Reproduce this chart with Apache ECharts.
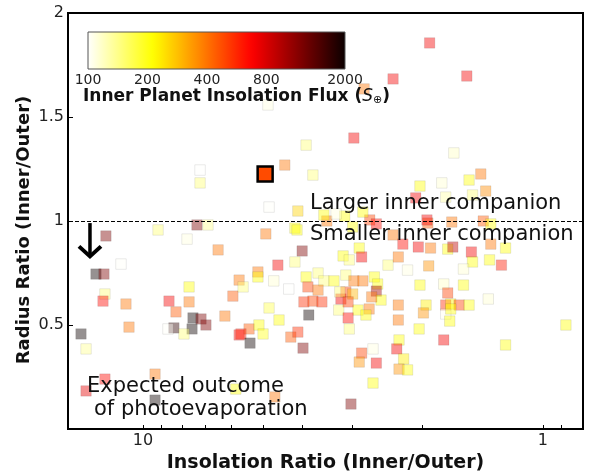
<!DOCTYPE html>
<html><head><meta charset="utf-8">
<script src="https://cdn.jsdelivr.net/npm/echarts@6/dist/echarts.min.js"></script>
<style>html,body{margin:0;padding:0;background:#fff}#c{width:596px;height:473px}</style>
</head><body><div id="c"></div>
<script>
// ---- data ----
const insolationRatio = [
  1.92,1.55,2.37,2.80,4.87,2.97,3.91,4.42,3.76,4.84,
  4.10,1.67,2.03,1.79,1.53,1.43,1.39,1.50,1.75,2.08,
  7.20,7.20,7.33,6.88,9.17,12.38,7.76,6.49,11.35,13.11,
  12.52,12.45,12.59,11.03,10.84,14.29,13.88,8.61,8.27,7.67,
  7.67,7.50,7.16,6.96,8.37,8.66,7.54,7.90,6.24,5.96,
  5.75,5.75,9.33,12.45,13.88,9.33,5.86,4.93,4.17,4.00,
  4.60,4.17,5.16,5.16,5.62,4.71,4.32,3.91,3.65,3.53,
  3.33,3.87,3.65,3.11,2.97,2.82,2.64,2.59,3.96,3.76,
  3.57,3.20,3.11,2.99,2.61,2.54,2.90,2.72,2.77,3.24,
  4.84,3.85,3.07,3.05,4.57,5.43,5.69,5.13,5.01,4.27,
  4.10,5.40,3.98,2.66,2.84,2.88,2.61,2.30,2.30,2.29,
  2.32,2.23,2.29,2.18,2.66,4.68,3.02,2.88,2.84,3.16,
  3.05,2.44,2.30,2.37,2.24,2.18,2.05,1.91,1.73,1.68,
  1.51,1.50,1.36,1.27,1.24,1.35,1.93,1.58,2.03,1.77,
  1.58,1.73,1.37,1.96,1.99,1.75,1.70,1.62,1.53,1.75,
  1.70,1.71,2.04,1.77,1.24,0.876,3.47,3.13,2.71,2.61,
  2.99,1.94,1.69,1.41,1.35,4.12,1.95,3.53,2.82,3.29,
  3.22,3.07,2.68
];
const radiusRatio = [
  1.856,1.697,1.683,1.635,1.558,1.399,1.365,1.269,1.221,1.067,
  1.048,1.327,1.168,1.183,1.197,1.226,1.144,1.125,1.115,1.111,
  1.183,1.245,0.981,0.981,0.957,0.928,0.913,0.861,0.793,0.745,
  0.745,0.649,0.615,0.601,0.490,0.457,0.385,0.615,0.563,0.683,
  0.611,0.534,0.529,0.500,0.486,0.481,0.481,0.457,0.543,0.639,
  0.716,0.452,0.264,0.240,0.183,0.139,0.192,0.938,0.966,0.856,
  0.788,0.803,0.755,0.731,0.683,0.712,0.673,0.731,0.750,0.712,
  0.712,0.683,0.668,0.740,0.712,0.712,0.731,0.697,0.611,0.615,
  0.611,0.625,0.659,0.649,0.663,0.620,0.572,0.577,0.548,0.572,
  0.582,0.548,0.534,0.481,0.524,0.481,0.457,0.500,0.457,0.442,
  0.466,0.413,0.389,0.385,0.365,0.322,0.317,0.596,0.524,0.428,
  0.385,0.337,0.288,0.284,0.221,0.154,0.120,0.870,0.827,0.832,
  0.813,0.788,0.827,0.933,0.889,0.764,0.875,0.870,0.865,0.875,
  0.851,0.803,0.813,0.788,0.870,0.889,0.784,0.769,0.692,0.697,
  0.692,0.654,0.625,0.596,0.558,0.596,0.601,0.596,0.596,0.553,
  0.577,0.519,0.481,0.428,0.404,0.500,1.000,1.024,1.005,0.986,
  0.971,0.990,0.995,1.000,0.986,0.957,1.005,1.029,1.043,1.034,
  0.659,0.611,0.635
];
const innerFlux = [
  700,700,700,400,110,700,150,400,150,102,
  260,120,210,115,210,400,360,150,130,700,
  150,101,1200,140,150,1200,110,400,102,2000,
  1200,150,650,400,400,2000,140,700,450,210,
  400,2000,1200,1200,1700,102,2000,150,400,450,
  400,650,400,650,750,2000,210,400,210,1200,
  700,150,400,210,150,115,101,210,150,150,
  210,500,400,150,400,400,210,210,550,500,
  550,700,500,300,1000,210,210,400,210,150,
  170,2000,650,150,210,450,600,210,200,450,
  550,2000,1200,110,500,350,700,400,400,210,
  700,230,350,210,210,400,1200,210,700,210,
  150,150,400,400,650,110,700,400,210,900,
  700,210,210,600,210,400,350,115,210,120,
  210,500,115,230,350,550,230,500,210,105,
  210,210,210,700,210,210,400,210,500,650,
  210,450,400,450,210,210,700,210,210,110,
  150,500,400
];
const highlightInsolation = [4.95];
const highlightRadius = [1.226];
const highlightFlux = [480];

const xLabelTicks = [1, 10];
const xAllTicks = [0.9, 1, 2, 3, 4, 5, 6, 7, 8, 9, 10];
const colorbarTicks = [100, 200, 400, 800, 2000];
const fluxMin = 100, fluxMax = 2000;
const dividerRadius = 1;
const arrowInsolation = [13.57];
const arrowFromRadius = [0.99];
const arrowToRadius = [0.83];

// ---- hot_r colormap ----
function hotR(t) {
  const s = 1 - t;
  const r = s < 0.365 ? 0.0416 + s / 0.365 * 0.9584 : 1;
  const g = s < 0.365 ? 0 : (s < 0.746 ? (s - 0.365) / 0.381 : 1);
  const b = s < 0.746 ? 0 : (s - 0.746) / 0.254;
  return 'rgb(' + Math.round(r * 255) + ',' + Math.round(g * 255) + ',' + Math.round(b * 255) + ')';
}
const N = 40;
const cmapColors = [], cmapStops = [];
for (let i = 0; i <= N; i++) {
  cmapColors.push(hotR(i / N));
  cmapStops.push({ offset: i / N, color: hotR(i / N) });
}

const scatterData = insolationRatio.map((x, i) => [x, radiusRatio[i], Math.log10(innerFlux[i])]);
const highlightData = highlightInsolation.map((x, i) => [x, highlightRadius[i], Math.log10(highlightFlux[i])]);

const FONT = 'DejaVu Sans';
const chart = echarts.init(document.getElementById('c'), null, { renderer: 'canvas' });

chart.setOption({
  backgroundColor: '#fff',
  animation: false,
  grid: [
    { left: 68, right: 13, top: 13, bottom: 44, show: true, borderColor: '#000', borderWidth: 2,
      backgroundColor: 'transparent', z: 10, containLabel: false, outerBoundsMode: 'none' },
    { left: 88, top: 32, width: 257, height: 37, show: true, borderColor: '#555', borderWidth: 1,
      containLabel: false, outerBoundsMode: 'none',
      backgroundColor: new echarts.graphic.LinearGradient(0, 0, 1, 0, cmapStops) }
  ],
  xAxis: [
    {
      gridIndex: 0, type: 'log', logBase: 10, min: 0.794, max: 15.4, inverse: true,
      axisLine: { show: false }, splitLine: { show: false },
      axisTick: { show: true, inside: true, length: 4, customValues: xAllTicks, lineStyle: { color: '#000', width: 1 } },
      axisLabel: { customValues: xLabelTicks, fontSize: 16, fontFamily: FONT, color: '#222', margin: 4,
                   formatter: v => String(v) },
      name: 'Insolation Ratio (Inner/Outer)', nameLocation: 'middle', nameGap: 21,
      nameTextStyle: { fontFamily: FONT, fontWeight: 'bold', fontSize: 19, color: '#111' }
    },
    {
      gridIndex: 1, type: 'log', logBase: 10, min: fluxMin, max: fluxMax,
      axisLine: { show: false }, splitLine: { show: false }, axisTick: { show: false },
      axisLabel: { customValues: colorbarTicks, fontSize: 14, fontFamily: FONT, color: '#222', margin: 4,
                   formatter: v => String(v) }
    }
  ],
  yAxis: [
    {
      gridIndex: 0, type: 'value', min: 0, max: 2, interval: 0.5,
      axisLine: { show: false }, splitLine: { show: false },
      axisTick: { show: true, inside: true, length: 5, lineStyle: { color: '#000', width: 1 } },
      axisLabel: { fontSize: 16, fontFamily: FONT, color: '#222', margin: 4,
                   formatter: v => (v === 0 ? '' : String(v)) }
    },
    { gridIndex: 1, type: 'value', min: 0, max: 1, show: false }
  ],
  visualMap: {
    show: false, type: 'continuous', dimension: 2, seriesIndex: [0, 1],
    min: Math.log10(fluxMin), max: Math.log10(fluxMax),
    inRange: { color: cmapColors }
  },
  series: [
    {
      type: 'scatter', xAxisIndex: 0, yAxisIndex: 0, data: scatterData,
      symbol: 'rect', symbolSize: 10.5,
      itemStyle: { opacity: 0.43, borderColor: 'rgba(0,0,0,0.35)', borderWidth: 0.6 },
      markLine: {
        silent: true, symbol: ['none', 'none'], label: { show: false },
        lineStyle: { color: '#000', type: [4, 2], width: 1 },
        data: [{ yAxis: dividerRadius }]
      },
      z: 3
    },
    {
      type: 'scatter', xAxisIndex: 0, yAxisIndex: 0, data: highlightData,
      symbol: 'rect', symbolSize: 15,
      itemStyle: { opacity: 1, borderColor: '#000', borderWidth: 2.5 },
      z: 4
    },
    {
      type: 'custom', xAxisIndex: 0, yAxisIndex: 0, silent: true, z: 6,
      encode: { x: 0, y: [1, 2] },
      data: arrowInsolation.map((x, i) => [x, arrowFromRadius[i], arrowToRadius[i]]),
      renderItem: function (params, api) {
        const p1 = api.coord([api.value(0), api.value(1)]);
        const p2 = api.coord([api.value(0), api.value(2)]);
        return {
          type: 'group',
          children: [
            { type: 'line', shape: { x1: p1[0], y1: p1[1], x2: p2[0], y2: p2[1] - 2 },
              style: { stroke: '#000', lineWidth: 3.5 } },
            { type: 'polyline', shape: { points: [[p2[0] - 11, p2[1] - 10], [p2[0], p2[1]], [p2[0] + 11, p2[1] - 10]] },
              style: { stroke: '#000', lineWidth: 4, fill: null, lineJoin: 'miter' } }
          ]
        };
      }
    }
  ],
  graphic: [
    { type: 'text', x: 24, y: 230, rotation: Math.PI / 2, z: 100,
      style: { text: 'Radius Ratio (Inner/Outer)', font: 'bold 18px "DejaVu Sans"', fill: '#111',
               align: 'center', verticalAlign: 'middle' } },
    { type: 'text', left: 310, top: 193, z: 100,
      style: { text: 'Larger inner companion', font: '21px "DejaVu Sans"', fill: '#111' } },
    { type: 'text', left: 310, top: 224, z: 100,
      style: { text: 'Smaller inner companion', font: '21px "DejaVu Sans"', fill: '#111' } },
    { type: 'text', left: 87, top: 376, z: 100,
      style: { text: 'Expected outcome', font: '21px "DejaVu Sans"', fill: '#111' } },
    { type: 'text', left: 94, top: 399, z: 100,
      style: { text: 'of photoevaporation', font: '21px "DejaVu Sans"', fill: '#111' } },
    { type: 'text', left: 83, top: 88, z: 100,
      style: {
        text: '{b|Inner Planet Insolation Flux (}{i|S}{s|⊕}{b|)}',
        rich: {
          b: { fontFamily: FONT, fontWeight: 'bold', fontSize: 17, fill: '#111' },
          i: { fontFamily: FONT, fontStyle: 'italic', fontSize: 17, fill: '#111' },
          s: { fontFamily: FONT, fontSize: 11, fill: '#111', padding: [8, 0, 0, 0] }
        }
      } }
  ]
});
</script>
</body></html>
